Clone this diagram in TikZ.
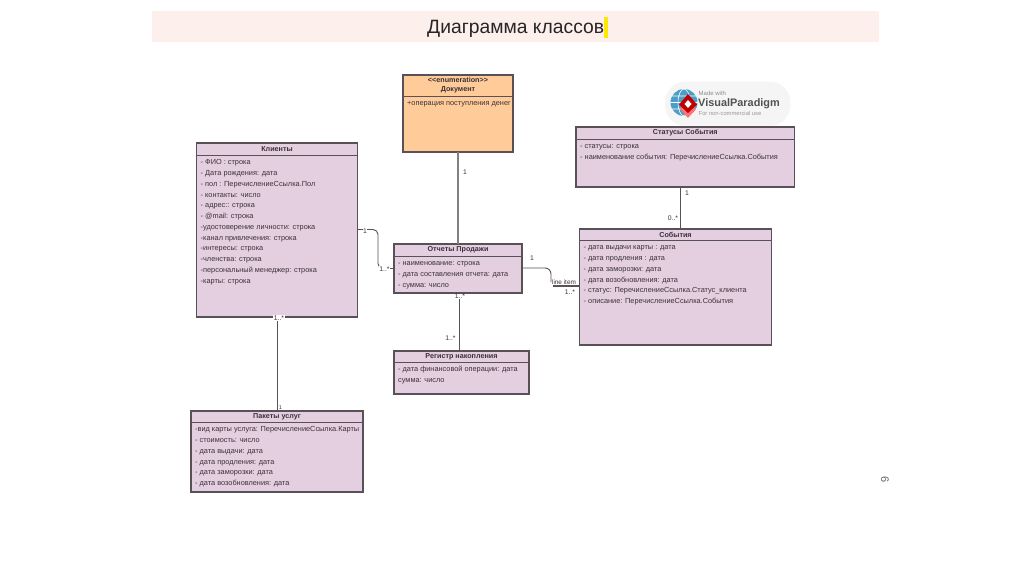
\documentclass[tikz,border=0pt]{standalone}
\usepackage{fontspec}
\setmainfont{Liberation Sans}
\usetikzlibrary{calc}
\definecolor{classfill}{HTML}{E4CFE0}
\definecolor{enumfill}{HTML}{FFCC99}
\definecolor{edgeclr}{HTML}{5A5058}
\definecolor{txtclr}{HTML}{3A3038}
\definecolor{band}{HTML}{FDEFEC}
\tikzset{
  x=1pt,y=-1pt,
  classbox/.style={draw=edgeclr,line width=1.1pt,fill=classfill,anchor=north west,inner sep=0pt,outer sep=0pt},
  enumbox/.style={classbox,fill=enumfill},
  divider/.style={draw=edgeclr,line width=0.9pt},
  headtext/.style={font=\fontsize{7.2}{9.5}\selectfont\bfseries,text=txtclr,inner sep=0pt,anchor=center},
  attrtext/.style={font=\fontsize{7.35}{10.75}\selectfont,text=txtclr,align=left,inner sep=0pt,anchor=north west},
  link/.style={draw=edgeclr,line width=0.9pt},
  linkgray/.style={draw=black!50,line width=1.5pt},
  mult/.style={font=\fontsize{6.8}{8}\selectfont,text=txtclr,inner sep=0.5pt},
}
\newcommand{\umlbox}[9]{% name, style, x, y, w, h, headerY, headertext, attrs
  \node[#2,minimum width=#5pt,minimum height=#6pt] (#1) at (#3,#4) {};
  \draw[divider] (#1.west |- 0,#7) -- (#1.east |- 0,#7);
  \node[attrtext] (#1attr) at (#3+4,#7+2) {\rule{0pt}{7.7pt}#9};
  \node[headtext] (#1head) at ($(#1.north)!0.5!(#1.north |- 0,#7)$) {#8};
}
\begin{document}
\begin{tikzpicture}
\useasboundingbox (0,0) rectangle (1024,574);
\fill[white] (0,0) rectangle (1024,574);
% title band
\node[fill=band,minimum width=727pt,minimum height=31pt,inner sep=0pt,anchor=north west] (band) at (152,11) {};
\node[font=\fontsize{19.3}{22}\selectfont,text=black!85,inner sep=0pt,anchor=base west] (title) at (427,33.5) {Диаграмма классов};
\node[fill=yellow!90!orange,minimum width=4pt,minimum height=21pt,inner sep=0pt,anchor=north west] (cursor) at (604,17) {};

% logo
\node[fill=black!4,rounded corners=20pt,minimum width=125pt,minimum height=44pt,inner sep=0pt,anchor=north west] (logo) at (665,81.5) {};
\fill[blue!35!cyan!70!black!70] (684,102.5) circle (13.5);
\draw[white,line width=0.6pt] (684,102.5) ellipse (6 and 13.5) (670.5,102.5) -- (697.5,102.5) (672,96) -- (696,96) (672,109) -- (696,109);
\fill[red!55!white] (680,109) -- (688,118) -- (696,109) -- (688,100) -- cycle;
\fill[red!75!black] (679,104.5) -- (688,113) -- (697,104.5) -- (688,94) -- cycle;
\fill[white] (684.5,104) -- (688,100) -- (691.5,104) -- (688,108) -- cycle;
\node[font=\fontsize{6}{7}\selectfont,text=black!45,inner sep=0,anchor=west] (logoa) at (698.5,93.5) {Made with};
\node[font=\fontsize{10.9}{12}\selectfont\bfseries,text=black!68,inner sep=0,anchor=west] (logob) at (698,103.5) {VisualParadigm};
\node[font=\fontsize{5.8}{7}\selectfont,text=black!40,inner sep=0,anchor=west] (logoc) at (698.5,113.5) {For non-commercial use};

% page number
\node[font=\fontsize{11}{12}\selectfont,text=black!60,rotate=-90,inner sep=0] (pnum) at (885,480) {6};

\umlbox{doc}{enumbox}{403}{75}{110}{77}{96}{}{+операция поступления денег}
\node[headtext,align=center] (dochead2) at (458,85) {{<}{<}enumeration{>}{>}\\Документ};

\umlbox{cli}{classbox}{196.5}{143}{161}{174}{155}{Клиенты}{- ФИО : строка\\- Дата рождения: дата\\- пол : ПеречислениеСсылка.Пол\\- контакты: число\\- адрес:: строка\\- @mail: строка\\-удостоверение личности: строка\\-канал привлечения: строка\\-интересы: строка\\-членства: строка\\-персональный менеджер: строка\\-карты: строка}

\umlbox{stat}{classbox}{576}{127}{218.5}{60}{139}{Статусы События}{- статусы: строка\\- наименование события: ПеречислениеСсылка.События}

\umlbox{ev}{classbox}{579.5}{229}{192}{116}{240}{События}{- дата выдачи карты : дата\\- дата продления : дата\\- дата заморозки: дата\\- дата возобновления: дата\\- статус: ПеречислениеСсылка.Статус\_клиента\\- описание: ПеречислениеСсылка.События}

\umlbox{rep}{classbox}{394}{244}{128}{49}{256}{Отчеты Продажи}{- наименование: строка\\- дата составления отчета: дата\\- сумма: число}

\umlbox{reg}{classbox}{394}{351}{135}{43}{362}{Регистр накопления}{- дата финансовой операции: дата\\сумма: число}

\umlbox{pak}{classbox}{191}{411}{172}{81}{422}{Пакеты услуг}{-вид карты услуга: ПеречислениеСсылка.Карты\\- стоимость: число\\- дата выдачи: дата\\- дата продления: дата\\- дата заморозки: дата\\- дата возобновления: дата}

% connector routing helpers
\coordinate (xa) at (680.5,0);
\coordinate (xb) at (277,0);
\coordinate (xc) at (459.5,0);
\coordinate (ya) at (0,229.5);
\coordinate (yb) at (0,268.5);
\coordinate (yc) at (0,286);

\draw[linkgray] (doc.south) -- (rep.north);
\draw[link] (xa |- stat.south) -- (xa |- ev.north);
\draw[link] (xb |- cli.south) -- (xb |- pak.north);
\draw[link] (xc |- rep.south) -- (xc |- reg.north);
\draw[link,rounded corners=5pt] (cli.east |- ya) -- (378,0 |- ya) -- (378,0 |- yb) -- (rep.west |- yb);
\draw[link,rounded corners=6pt] (rep.east |- 0,268) -- (551,268) -- (551,282);
\draw[link,line width=1.1pt] (553,286) -- (ev.west |- yc);

% multiplicities
\node[mult,fill=white] (m1) at (365,231) {1};
\node[mult,fill=white] (m2) at (384.5,269) {1..*};
\node[mult,fill=white] (m3) at (279,318) {1..*};
\node[mult] (m4) at (465,172) {1};
\node[mult] (m5) at (687,193.5) {1};
\node[mult] (m6) at (673,218.5) {0..*};
\node[mult] (m7) at (532,258.5) {1};
\node[mult,font=\fontsize{6.4}{8}\selectfont] (m8) at (564,282) {line item};
\node[mult] (m9) at (570,292) {1..*};
\node[mult,fill=white] (m10) at (460,296.5) {1..*};
\node[mult] (m11) at (450.5,338) {1..*};
\node[mult,inner sep=0.2pt,font=\fontsize{5.5}{6}\selectfont] (m12) at (280.5,408) {1};
\end{tikzpicture}
\end{document}
